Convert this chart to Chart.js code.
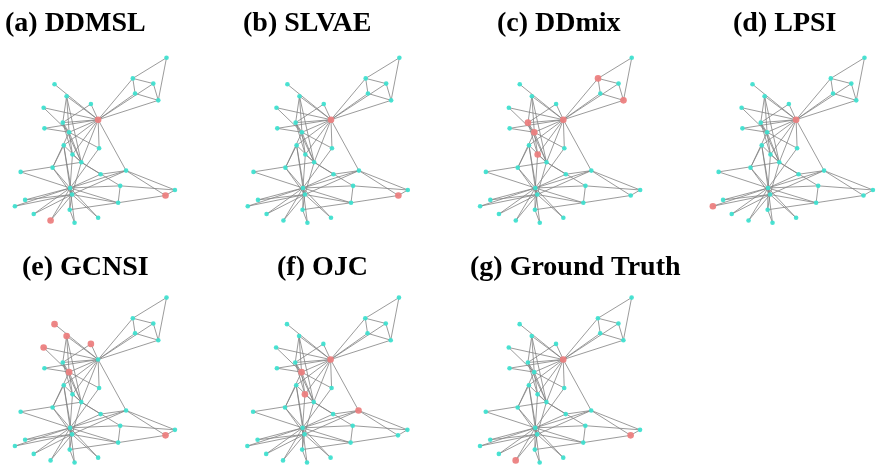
<!DOCTYPE html>
<html>
<head>
<meta charset="utf-8">
<script src="https://cdn.jsdelivr.net/npm/chart.js@4.4.1/dist/chart.umd.min.js"></script>
<style>
  html, body { margin: 0; padding: 0; background: #ffffff; }
  #wrap { position: relative; width: 877px; height: 470px; }
</style>
</head>
<body>
<div id="wrap"><canvas id="c" width="877" height="470"></canvas></div>
<script>
// Karate-club network: layout coordinates of the 34 members
const nodeX = [95.0, 65.7, 78.0, 59.3, 132.3, 130.0, 155.7, 63.2, 60.3, 16.8,
               150.7, 51.0, 87.7, 69.1, 21.3, 11.0, 164.0, 40.0, 30.0, 96.0,
               47.0, 40.8, 95.0, 115.2, 172.5, 163.0, 71.2, 117.3, 97.5, 66.3,
               49.0, 123.2, 68.7, 66.7];
const nodeY = [117.7, 130.5, 161.0, 120.7, 91.0, 75.7, 98.0, 93.8, 143.8, 170.8,
               81.0, 81.7, 101.8, 153.1, 199.3, 205.7, 54.7, 105.5, 213.7, 146.7,
               220.3, 126.5, 217.5, 202.2, 189.2, 194.8, 222.5, 185.0, 173.2, 209.3,
               166.5, 169.5, 193.8, 187.2];

// Friendship ties (node index pairs)
const edges = [
  [0,1],[0,2],[0,3],[0,4],[0,5],[0,6],[0,7],[0,8],[0,10],[0,11],[0,12],[0,13],[0,17],[0,19],[0,21],[0,31],
  [1,2],[1,3],[1,7],[1,13],[1,17],[1,19],[1,21],[1,30],
  [2,3],[2,7],[2,8],[2,9],[2,13],[2,27],[2,28],[2,32],
  [3,7],[3,12],[3,13],
  [4,6],[4,5],[5,10],[5,16],[6,10],[6,16],
  [8,30],[8,32],[8,33],
  [9,33],[13,33],[14,32],[14,33],[15,32],[15,33],[18,32],[18,33],[19,33],[20,32],[20,33],[22,32],[22,33],
  [23,25],[23,27],[23,29],[23,32],[23,33],
  [24,25],[24,27],[24,31],[25,31],
  [26,29],[26,33],[27,33],[28,31],[28,33],
  [29,32],[29,33],[30,32],[30,33],[31,32],[31,33],[32,33]
];

// Method names and the source nodes each one reports
const panelTitles = ['(a) DDMSL', '(b) SLVAE', '(c) DDmix', '(d) LPSI',
                     '(e) GCNSI', '(f) OJC', '(g) Ground Truth'];
const panelSources = [
  [0, 20, 25],
  [0, 25],
  [0, 1, 3, 5, 6, 13],
  [0, 15],
  [1, 7, 11, 12, 17, 25],
  [0, 1, 13, 31],
  [0, 20, 25]
];

// Grid placement of the seven small multiples
const panelShift = [
  { dx: 0,     dy: 0 },
  { dx: 235,   dy: 0 },
  { dx: 469.5, dy: 0 },
  { dx: 704.4, dy: 0 },
  { dx: 0,     dy: 244 },
  { dx: 234.6, dy: 244 },
  { dx: 469.4, dy: 244 }
];
const titleAnchor = [
  { x: 5,   y: 31 }, { x: 243, y: 31 }, { x: 497, y: 31 }, { x: 733, y: 31 },
  { x: 22,  y: 275 }, { x: 277, y: 275 }, { x: 470, y: 275 }
];

const EDGE_COLOR = 'rgba(130,130,130,0.8)';
const NODE_COLOR = 'rgba(64,224,208,0.95)';
const SOURCE_COLOR = 'rgba(236,128,128,0.95)';

const datasets = [];
panelTitles.forEach((t, p) => {
  const s = panelShift[p];
  const linePts = [];
  edges.forEach(([a, b]) => {
    linePts.push({ x: nodeX[a] + s.dx, y: nodeY[a] + s.dy });
    linePts.push({ x: nodeX[b] + s.dx, y: nodeY[b] + s.dy });
    linePts.push({ x: NaN, y: NaN });
  });
  datasets.push({
    label: t + ' edges',
    data: linePts,
    showLine: true,
    spanGaps: false,
    pointRadius: 0,
    borderColor: EDGE_COLOR,
    borderWidth: 1,
    clip: false,
    order: 3
  });
  const src = new Set(panelSources[p]);
  const plain = [], hot = [];
  nodeX.forEach((x, i) => {
    const pt = { x: x + s.dx, y: nodeY[i] + s.dy };
    (src.has(i) ? hot : plain).push(pt);
  });
  datasets.push({
    label: t + ' nodes',
    data: plain,
    pointRadius: 2.3,
    pointBorderWidth: 0,
    pointBackgroundColor: NODE_COLOR,
    clip: false,
    order: 2
  });
  datasets.push({
    label: t + ' sources',
    data: hot,
    pointRadius: 3.3,
    pointBorderWidth: 0,
    pointBackgroundColor: SOURCE_COLOR,
    clip: false,
    order: 1
  });
});

// Panel captions drawn on the canvas
const panelCaptions = {
  id: 'panelCaptions',
  afterDraw(chart) {
    const ctx = chart.ctx;
    ctx.save();
    ctx.fillStyle = '#000000';
    ctx.font = 'bold 28px "Liberation Serif", "Times New Roman", serif';
    ctx.textAlign = 'left';
    ctx.textBaseline = 'alphabetic';
    panelTitles.forEach((t, p) => {
      ctx.fillText(t, titleAnchor[p].x, titleAnchor[p].y);
    });
    ctx.restore();
  }
};

new Chart(document.getElementById('c'), {
  type: 'scatter',
  data: { datasets },
  options: {
    responsive: false,
    animation: false,
    devicePixelRatio: 1,
    layout: { padding: 0 },
    plugins: { legend: { display: false }, tooltip: { enabled: false }, title: { display: false } },
    scales: {
      x: { type: 'linear', min: 0, max: 877, display: false },
      y: { type: 'linear', min: 0, max: 470, reverse: true, display: false }
    }
  },
  plugins: [panelCaptions]
});
</script>
</body>
</html>
